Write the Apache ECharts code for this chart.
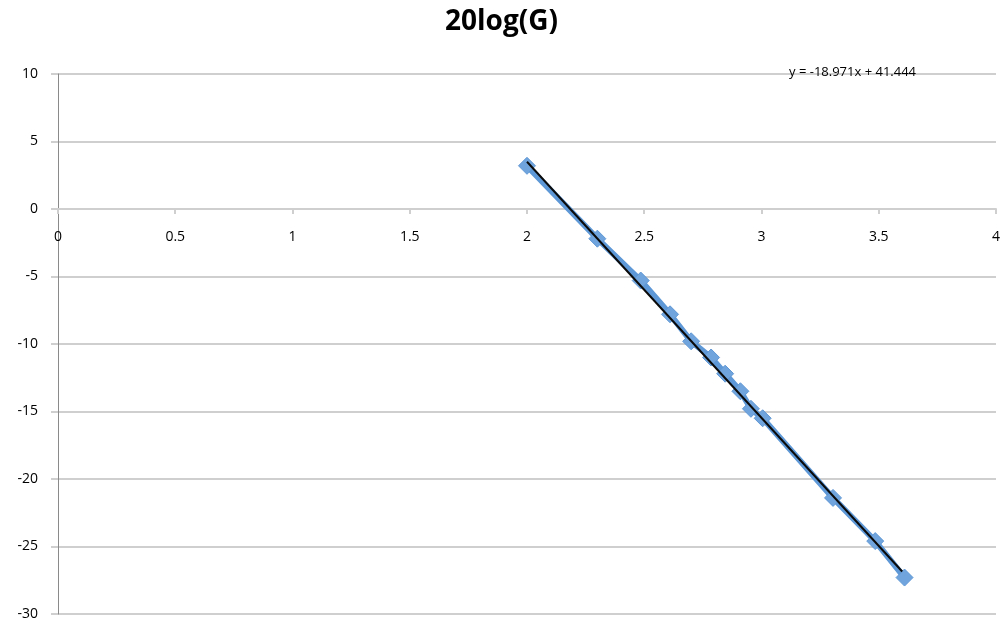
<!DOCTYPE html>
<html>
<head>
<meta charset="utf-8">
<script src="https://cdn.jsdelivr.net/npm/echarts@6/dist/echarts.min.js"></script>
<style>
    html, body { margin: 0; padding: 0; background: #fff; }
    #chart { width: 1003px; height: 626px; }
</style>
</head>
<body>
<div id="chart"></div>
<script>
const xValues = [2.0, 2.3, 2.485, 2.61, 2.7, 2.785, 2.845, 2.91, 2.955, 3.005, 3.305, 3.485, 3.61];
const yValues = [3.2, -2.2, -5.3, -7.8, -9.8, -11.0, -12.2, -13.5, -14.8, -15.5, -21.4, -24.6, -27.3];

// trendline as printed on the chart
const slope = -18.971;
const intercept = 41.444;
const trendX = [2.0, 3.6];

const xTicks = { min: 0, max: 4, interval: 0.5 };
const yTicks = { min: -30, max: 10, interval: 5 };

const font = '"Open Sans", Lato, sans-serif';
const gridTop = 74, gridBottom = 12, chartHeight = 626;

function fmt(v) {
    return String(v);
}

let points = xValues.map((x, i) => [x, yValues[i]]);
let trend = trendX.map(x => [x, slope * x + intercept]);

// x axis sits on y = 0, so shift it up from the bottom of the grid
let plotHeight = chartHeight - gridTop - gridBottom;
let zeroOffset = -(0 - yTicks.min) / (yTicks.max - yTicks.min) * plotHeight;

let chart = echarts.init(document.getElementById('chart'));
chart.setOption({
    animation: false,
    title: [
        {
            text: '20log(G)',
            left: 'center',
            top: 3,
            textStyle: { fontFamily: font, fontSize: 28, fontWeight: 'bold', color: '#000' }
        },
        {
            text: 'y = -18.971x + 41.444',
            left: 784,
            top: 61,
            textStyle: { fontFamily: font, fontSize: 13, fontWeight: 'normal', color: '#000' }
        }
    ],
    grid: { left: 58, right: 5, top: gridTop, bottom: gridBottom },
    xAxis: {
        type: 'value',
        min: xTicks.min,
        max: xTicks.max,
        interval: xTicks.interval,
        position: 'bottom',
        offset: zeroOffset,
        axisLine: { onZero: false, lineStyle: { color: '#cfcfcf', width: 2 } },
        axisTick: { show: true, length: 5, lineStyle: { color: '#cfcfcf', width: 2 } },
        axisLabel: { margin: 21, color: '#000', fontFamily: font, fontSize: 14, formatter: fmt },
        splitLine: { show: false }
    },
    yAxis: {
        type: 'value',
        min: yTicks.min,
        max: yTicks.max,
        interval: yTicks.interval,
        axisLine: { show: true, lineStyle: { color: '#8a8a8a', width: 1 } },
        axisTick: { show: true, length: 7, lineStyle: { color: '#cfcfcf', width: 2 } },
        axisLabel: { margin: 20, color: '#000', fontFamily: font, fontSize: 14 },
        splitLine: { show: true, lineStyle: { color: '#cfcfcf', width: 2 } }
    },
    series: [
        {
            name: '20log(G)',
            type: 'line',
            data: points,
            symbol: 'diamond',
            symbolSize: 17,
            itemStyle: { color: '#70a4dc', borderColor: '#5f97d4', borderWidth: 1 },
            lineStyle: { color: '#5e98d6', width: 6 },
            z: 2
        },
        {
            name: 'trend',
            type: 'line',
            data: trend,
            symbol: 'none',
            lineStyle: { color: '#0a0a0a', width: 2 },
            z: 3
        }
    ]
});
</script>
</body>
</html>
